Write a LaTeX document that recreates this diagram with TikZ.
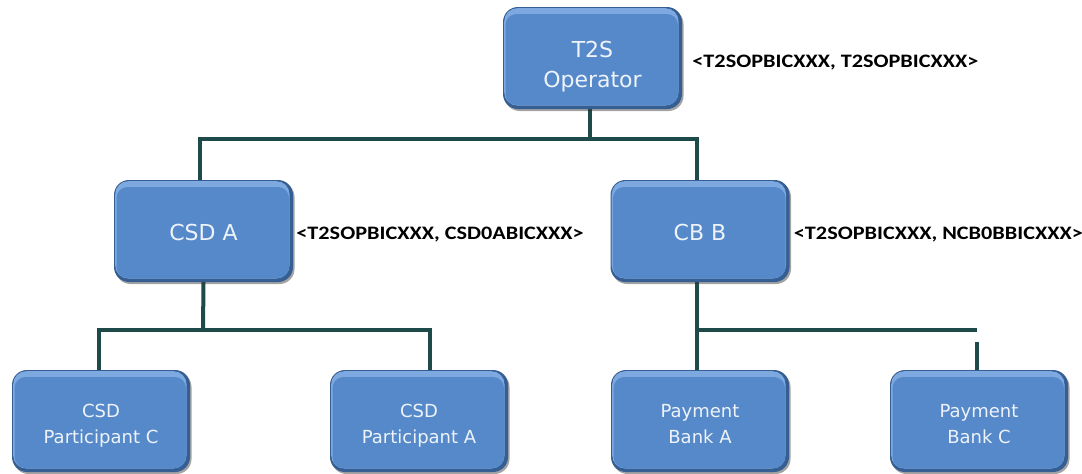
\documentclass[tikz,border=0pt]{standalone}
\usepackage{fontspec}
\usepackage{graphicx}
\setmainfont{DejaVu Sans}
\newfontfamily\labfont{Carlito}
\usetikzlibrary{shadows,backgrounds}
\definecolor{boxhl}{HTML}{7DA9E0}
\definecolor{boxmid}{HTML}{5689C9}
\definecolor{boxdark}{HTML}{355E92}
\definecolor{connc}{HTML}{1F4A4A}
\definecolor{txt}{HTML}{EEF3FA}
\newcommand{\bt}[2]{\raisebox{#1}[\height][\depth]{\begin{tabular}{@{}c@{}}#2\end{tabular}}}
\tikzset{
  orgbox/.style={rounded corners=15pt, minimum width=179pt, minimum height=102pt,
    fill=boxdark, text=txt, align=center, inner sep=0pt,
    drop shadow={shadow xshift=1.5pt, shadow yshift=-2pt, opacity=0.45, fill=black!80},
    path picture={
      \fill[boxhl, rounded corners=13pt] ([xshift=1.2pt,yshift=-1.2pt]path picture bounding box.north west) rectangle ([xshift=-3.5pt,yshift=3.5pt]path picture bounding box.south east);
      \fill[boxmid, rounded corners=11pt] ([xshift=2.5pt,yshift=-7pt]path picture bounding box.north west) rectangle ([xshift=-4pt,yshift=4pt]path picture bounding box.south east);
    }},
  bigtxt/.style={font=\fontsize{22}{30}\selectfont},
  smalltxt/.style={font=\fontsize{18}{26}\selectfont, minimum width=178pt},
  conn/.style={draw=connc, line width=4pt},
  bic/.style={anchor=west, inner sep=0pt, font=\labfont\bfseries\fontsize{19}{22}\selectfont}
}
\begin{document}
\begin{tikzpicture}[x=1pt,y=-1pt]
\useasboundingbox (0,0) rectangle (1082,474);
\node[orgbox,bigtxt] (t2s) at (592.5,58) {\bt{-8pt}{T2S\\Operator}};
\node[orgbox,bigtxt] (csda) at (203.5,231) {\bt{-3pt}{CSD A}};
\node[orgbox,bigtxt] (cbb) at (700,231) {\bt{-3pt}{CB B}};
\node[orgbox,smalltxt] (csdc) at (101,421) {\bt{-4pt}{CSD\\Participant C}};
\node[orgbox,smalltxt] (csdpa) at (419,421) {\bt{-4pt}{CSD\\Participant A}};
\node[orgbox,smalltxt] (pba) at (700,421) {\bt{-4pt}{Payment\\Bank A}};
\node[orgbox,smalltxt] (pbc) at (979,421) {\bt{-4pt}{Payment\\Bank C}};

\node[bic] (l1) at ([xshift=10pt,yshift=-5pt]t2s.east) {\scalebox{1.17}[1]{<T2SOPBICXXX, T2SOPBICXXX>}};
\node[bic] (l2) at ([xshift=3pt,yshift=-4pt]csda.east) {\scalebox{1.17}[1]{<T2SOPBICXXX, CSD0ABICXXX>}};
\node[bic] (l3) at ([xshift=4pt,yshift=-4pt]cbb.east) {\scalebox{1.17}[1]{<T2SOPBICXXX, NCB0BBICXXX>}};

\coordinate (h1) at (590,139);
\coordinate (h2) at (203,330);
\coordinate (h3) at (697,330);
\coordinate (h4) at (977,330);
\coordinate (h5) at (977,342);
\begin{scope}[on background layer]
\draw[conn] ([xshift=-2.5pt]t2s.south) -- (h1);
\draw[conn] ([xshift=-3.5pt]csda.north) |- (h1) -| ([xshift=-3pt]cbb.north);
\draw[conn] (csda.south) -- (h2);
\draw[conn] ([xshift=-2pt]csdc.north) |- (h2) -| ([xshift=11pt]csdpa.north);
\draw[conn] ([xshift=-3pt]cbb.south) -- ([xshift=-3pt]pba.north);
\draw[conn] (h3) -- (h4);
\draw[conn] (h5) -- ([xshift=-2pt]pbc.north);
\end{scope}
\end{tikzpicture}
\end{document}
